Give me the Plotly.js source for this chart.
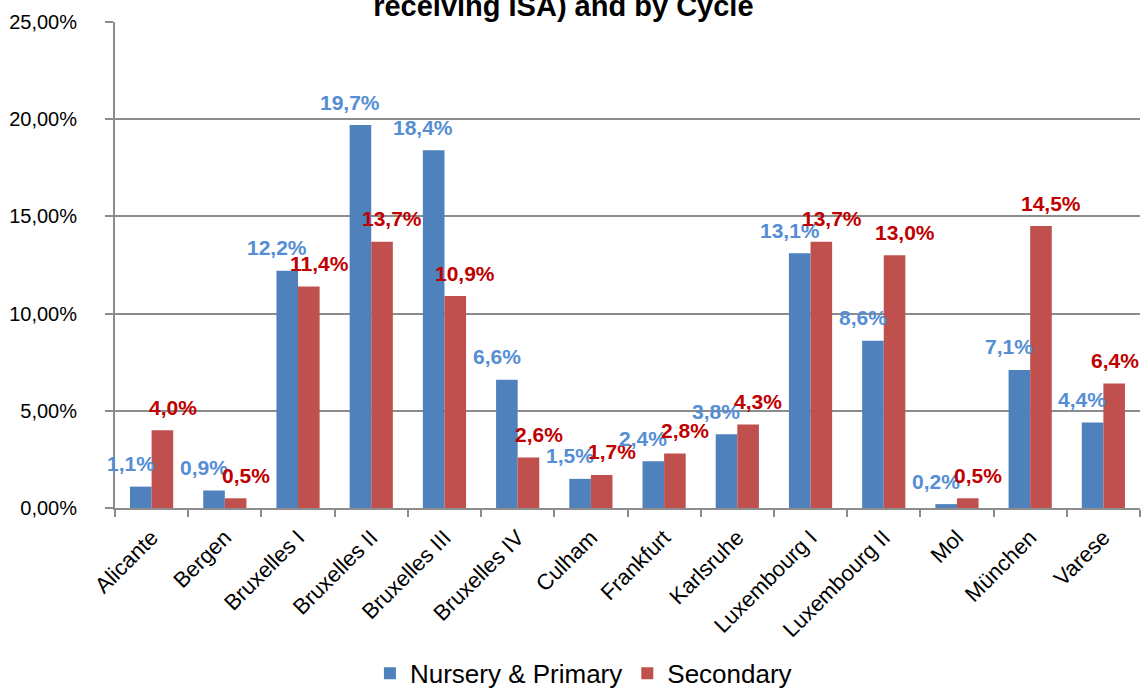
<!DOCTYPE html>
<html>
<head>
<meta charset="utf-8">
<script src="https://cdn.plot.ly/plotly-3.0.1.min.js"></script>
<style>html,body{margin:0;padding:0;background:#fff;}#chart{width:1145px;height:688px;}</style>
</head>
<body>
<div id="chart"></div>
<script>
const categories = ["Alicante","Bergen","Bruxelles I","Bruxelles II","Bruxelles III","Bruxelles IV","Culham","Frankfurt","Karlsruhe","Luxembourg I","Luxembourg II","Mol","München","Varese"];
const nurseryPrimary = [1.1,0.9,12.2,19.7,18.4,6.6,1.5,2.4,3.8,13.1,8.6,0.2,7.1,4.4];
const secondary = [4.0,0.5,11.4,13.7,10.9,2.6,1.7,2.8,4.3,13.7,13.0,0.5,14.5,6.4];
const seriesNames = ["Nursery & Primary","Secondary"];
const titleText = "receiving ISA) and by Cycle";

const FONT = "Liberation Sans, Arial, sans-serif";
const toFrac = a => a.map(v => v / 100);
const fmt = v => v.toFixed(1).replace('.', ',') + '%';

const traces = [
  {type:'bar', name:seriesNames[0], x:categories, y:toFrac(nurseryPrimary), marker:{color:'#4F81BD'}, hoverinfo:'none'},
  {type:'bar', name:seriesNames[1], x:categories, y:toFrac(secondary), marker:{color:'#C0504D'}, hoverinfo:'none'}
];

const annotations = [];
const last = categories.length - 1;
categories.forEach((c,i) => {
  annotations.push({x:c, y:nurseryPrimary[i]/100, xref:'x', yref:'y', text:fmt(nurseryPrimary[i]), showarrow:false,
    xshift:-21, yshift:23, font:{family:FONT, size:21, color:'#558ED5', weight:'bold'}, xanchor:'center', yanchor:'middle'});
  annotations.push({x:c, y:secondary[i]/100, xref:'x', yref:'y', text:fmt(secondary[i]), showarrow:false,
    xshift:(i === last ? 12 : 21), yshift:23, font:{family:FONT, size:21, color:'#C00000', weight:'bold'}, xanchor:'center', yanchor:'middle'});
});

const layout = {
  width:1145, height:688,
  margin:{l:115, r:5, t:22, b:180, autoexpand:false},
  paper_bgcolor:'#fff', plot_bgcolor:'#fff',
  separators:',.',
  font:{family:FONT, color:'#000'},
  title:{text:'<b>'+titleText+'</b>', font:{family:FONT, size:29, color:'#000'}, x:0.492, xanchor:'center', y:0.992, yref:'container', yanchor:'middle'},
  barmode:'group', bargap:0.41, bargroupgap:0,
  xaxis:{type:'category', range:[-0.5, categories.length - 0.5], autorange:false, tickangle:-45, tickfont:{family:FONT, size:22, color:'#000'}, automargin:false,
    showline:true, linecolor:'#8c8c8c', linewidth:2, ticks:'outside', ticklen:7, tickcolor:'#8c8c8c', tickwidth:2,
    ticklabelstandoff:6, tickson:'boundaries', showgrid:false, fixedrange:true},
  yaxis:{range:[0,0.25], dtick:0.05, tick0:0, tickformat:'.2%', tickfont:{family:FONT, size:20, color:'#000'}, automargin:false,
    showline:true, linecolor:'#8c8c8c', linewidth:2, ticks:'outside', ticklen:8, tickcolor:'#8c8c8c', tickwidth:2,
    ticklabelstandoff:24, showgrid:true, gridcolor:'#8c8c8c', gridwidth:2, zeroline:false, fixedrange:true},
  legend:{orientation:'h', x:0.457, xanchor:'center', y:-0.34, yanchor:'middle', font:{family:FONT, size:26, color:'#000'}},
  annotations:annotations,
  showlegend:true
};

Plotly.newPlot('chart', traces, layout, {displayModeBar:false, staticPlot:true});
</script>
</body>
</html>
